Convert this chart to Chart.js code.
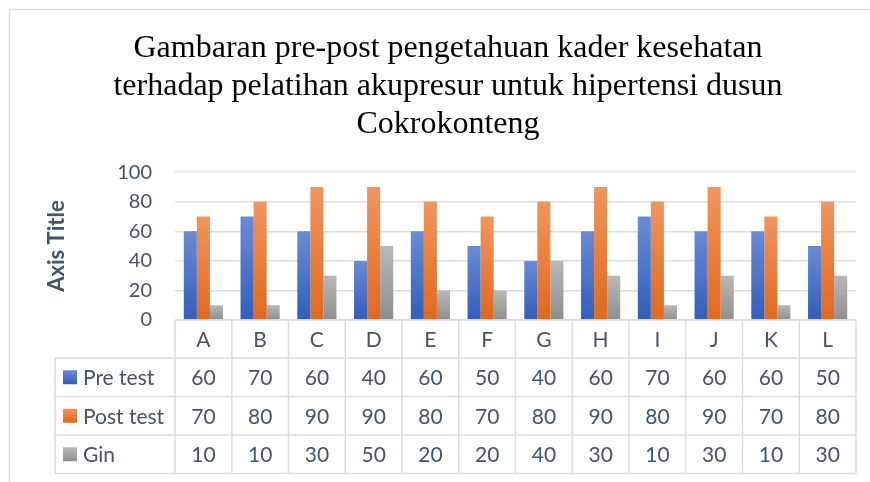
<!DOCTYPE html>
<html>
<head>
<meta charset="utf-8">
<script src="https://cdn.jsdelivr.net/npm/chart.js@4/dist/chart.umd.min.js"></script>
<style>
  html, body { margin: 0; padding: 0; background: #fff; }
  #wrap { width: 870px; height: 482px; position: relative; }
</style>
</head>
<body>
<div id="wrap"><canvas id="chart" width="870" height="482"></canvas></div>
<script>
// Données
const categories = ['A', 'B', 'C', 'D', 'E', 'F', 'G', 'H', 'I', 'J', 'K', 'L'];
const preTest = [60, 70, 60, 40, 60, 50, 40, 60, 70, 60, 60, 50];
const postTest = [70, 80, 90, 90, 80, 70, 80, 90, 80, 90, 70, 80];
const gin = [10, 10, 30, 50, 20, 20, 40, 30, 10, 30, 10, 30];
const yTicks = [0, 20, 40, 60, 80, 100];

const titleLines = [
  'Gambaran pre-post pengetahuan kader kesehatan',
  'terhadap pelatihan akupresur untuk hipertensi dusun',
  'Cokrokonteng'
];

const TEXT_COLOR = '#44546a';
const LINE_COLOR = '#d9dee6';
const FONT = 'Lato, "Noto Sans", sans-serif';

// Dégradé vertical par barre (comme dans Excel)
function barGradient(top, bottom) {
  return (c) => {
    const chart = c.chart;
    const y = chart.scales && chart.scales.y;
    if (!chart.chartArea || !y || c.type !== 'data') return bottom;
    const y0 = y.getPixelForValue(c.raw);
    const y1 = y.getPixelForValue(0);
    if (!isFinite(y0) || !isFinite(y1) || y0 === y1) return bottom;
    const g = chart.ctx.createLinearGradient(0, y0, 0, y1);
    g.addColorStop(0, top);
    g.addColorStop(1, bottom);
    return g;
  };
}

const seriesStyle = [
  { label: 'Pre test', data: preTest, top: '#6a8bd6', bottom: '#2f5ebb' },
  { label: 'Post test', data: postTest, top: '#f1955e', bottom: '#e2681a' },
  { label: 'Gin', data: gin, top: '#b8b8b8', bottom: '#8e8e8e' }
];

// Cadre du graphique (bord gauche et haut)
const framePlugin = {
  id: 'frame',
  beforeDraw(chart) {
    const ctx = chart.ctx;
    ctx.save();
    ctx.strokeStyle = LINE_COLOR;
    ctx.lineWidth = 1.5;
    ctx.beginPath();
    ctx.moveTo(9.5, chart.height);
    ctx.lineTo(9.5, 9.5);
    ctx.lineTo(chart.width, 9.5);
    ctx.stroke();
    ctx.restore();
  }
};

// Tableau de données sous l'axe X
const tablePlugin = {
  id: 'dataTable',
  afterDraw(chart) {
    const { ctx, chartArea, scales: { x } } = chart;
    const half = (x.getPixelForValue(1) - x.getPixelForValue(0)) / 2;
    const left = x.getPixelForValue(0) - half;
    const right = x.getPixelForValue(categories.length - 1) + half;
    const top = chartArea.bottom;
    const headerH = 38;
    const rowH = 38.5;
    const legendLeft = 55;
    const bottom = top + headerH + rowH * seriesStyle.length;

    ctx.save();
    ctx.strokeStyle = LINE_COLOR;
    ctx.lineWidth = 1.5;
    ctx.beginPath();
    // lignes horizontales
    ctx.moveTo(left, top); ctx.lineTo(right, top);
    for (let r = 0; r <= seriesStyle.length; r++) {
      const yy = top + headerH + r * rowH;
      ctx.moveTo(legendLeft, yy); ctx.lineTo(right, yy);
    }
    // lignes verticales
    ctx.moveTo(legendLeft, top + headerH); ctx.lineTo(legendLeft, bottom);
    for (let i = 0; i <= categories.length; i++) {
      const xx = left + i * half * 2;
      ctx.moveTo(xx, top); ctx.lineTo(xx, bottom);
    }
    ctx.stroke();

    ctx.font = '21px ' + FONT;
    ctx.fillStyle = TEXT_COLOR;
    ctx.textBaseline = 'middle';
    seriesStyle.forEach((s, r) => {
      const cy = top + headerH + r * rowH + rowH / 2;
      // pastille de légende
      const g = ctx.createLinearGradient(0, cy - 7, 0, cy + 7);
      g.addColorStop(0, s.top);
      g.addColorStop(1, s.bottom);
      ctx.fillStyle = g;
      ctx.fillRect(63, cy - 7, 14, 14);
      ctx.fillStyle = TEXT_COLOR;
      ctx.textAlign = 'left';
      ctx.fillText(s.label, 83, cy + 1);
      ctx.textAlign = 'center';
      s.data.forEach((v, i) => {
        ctx.fillText(String(v), x.getPixelForValue(i), cy + 1);
      });
    });
    ctx.restore();
  }
};

const chart = new Chart(document.getElementById('chart').getContext('2d'), {
  type: 'bar',
  data: {
    labels: categories,
    datasets: seriesStyle.map(s => ({
      label: s.label,
      data: s.data,
      backgroundColor: barGradient(s.top, s.bottom),
      borderWidth: 0,
      barPercentage: 1,
      categoryPercentage: 0.69
    }))
  },
  options: {
    responsive: false,
    animation: false,
    devicePixelRatio: 1,
    layout: { padding: { left: 40, right: 14, top: 0, bottom: 2 } },
    scales: {
      x: {
        grid: { display: false, drawTicks: false },
        border: { display: false },
        ticks: { color: TEXT_COLOR, font: { family: FONT, size: 21 }, padding: 8, maxRotation: 0 },
        afterFit: (s) => { s.height = 160; }
      },
      y: {
        min: 0,
        max: 100,
        afterBuildTicks: (s) => { s.ticks = yTicks.map(v => ({ value: v })); },
        grid: { color: LINE_COLOR, lineWidth: 1.5, drawTicks: false },
        border: { display: false },
        ticks: { color: TEXT_COLOR, font: { family: FONT, size: 20 }, padding: 23 },
        title: {
          display: true,
          text: 'Axis Title',
          color: TEXT_COLOR,
          font: { family: FONT, size: 22, weight: 'bold' },
          padding: { top: 4, bottom: 0 }
        },
        afterFit: (s) => { s.width = 135; }
      }
    },
    plugins: {
      legend: { display: false },
      tooltip: { enabled: false },
      title: {
        display: true,
        text: titleLines,
        color: '#000',
        font: { family: '"Liberation Serif", "Times New Roman", serif', size: 32, weight: 'normal', lineHeight: 1.2 },
        padding: { top: 29, bottom: 28 }
      }
    }
  },
  plugins: [framePlugin, tablePlugin]
});
</script>
</body>
</html>
